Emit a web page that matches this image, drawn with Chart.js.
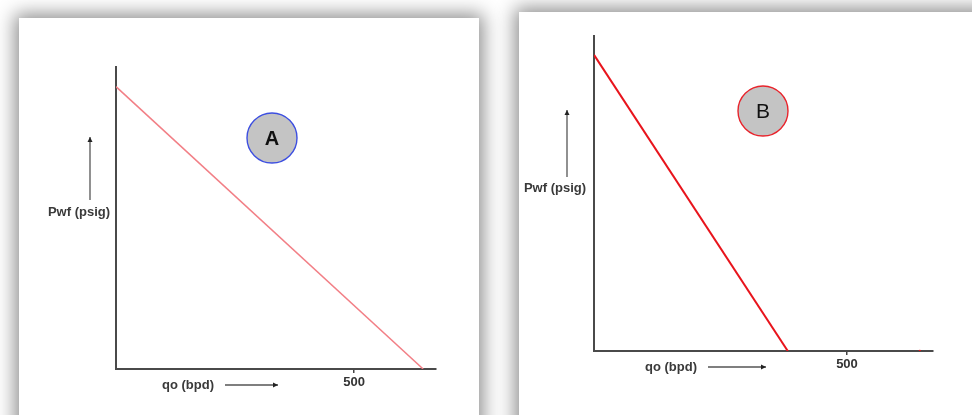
<!DOCTYPE html>
<html>
<head>
<meta charset="utf-8">
<script src="https://cdn.jsdelivr.net/npm/chart.js@4.4.1/dist/chart.umd.min.js"></script>
<style>
html, body { margin: 0; padding: 0; background: #fff; width: 972px; height: 415px; overflow: hidden; position: relative; }
.card { position: absolute; background: #fff; box-shadow: 0 0 18px 4px rgba(0,0,0,.45); }
#cardA { left: 19px; top: 18px; width: 460px; height: 420px; }
#cardB { left: 519px; top: 12px; width: 470px; height: 420px; }
canvas { display: block; }
</style>
</head>
<body>
<div class="card" id="cardA"><canvas id="chartA" width="460" height="397"></canvas></div>
<div class="card" id="cardB"><canvas id="chartB" width="470" height="403"></canvas></div>
<script>
// values (qo in bpd, Pwf on an unlabelled 0..1000 scale)
const qoA = [0, 645];
const pwfA = [935, 0];
const qoB = [0, 383];
const pwfB = [940, 0];
const strayQo = [644];      // tiny red mark sitting on panel B's axis
const strayPwf = [0];
const xTickValues = [500];
const yMax = 1000;

const FONT = '"Liberation Sans", Arial, sans-serif';

function pts(xs, ys){ return xs.map((x,i) => ({ x, y: ys[i] })); }

function drawArrow(c, x1, y1, x2, y2){
    c.beginPath();
    c.moveTo(x1, y1);
    c.lineTo(x2, y2);
    c.stroke();
    // small head at (x2,y2)
    const a = Math.atan2(y2 - y1, x2 - x1);
    const L = 5, W = 2.5;
    c.beginPath();
    c.moveTo(x2, y2);
    c.lineTo(x2 - L*Math.cos(a) + W*Math.sin(a), y2 - L*Math.sin(a) - W*Math.cos(a));
    c.lineTo(x2 - L*Math.cos(a) - W*Math.sin(a), y2 - L*Math.sin(a) + W*Math.cos(a));
    c.closePath();
    c.fill();
}

// axis captions, arrows and the lettered badge
const notes = {
    id: 'notes',
    afterDraw(chart, args, o){
        const c = chart.ctx;
        c.save();
        c.fillStyle = '#3a3a3a';
        c.font = 'bold 13px ' + FONT;
        c.textAlign = 'center';
        c.textBaseline = 'middle';
        c.fillText('Pwf (psig)', o.yText[0], o.yText[1]);
        c.fillText('qo (bpd)', o.xText[0], o.xText[1]);

        c.strokeStyle = '#555';
        c.fillStyle = '#222';
        c.lineWidth = 1.3;
        drawArrow(c, ...o.yArrow);
        drawArrow(c, ...o.xArrow);

        const [bx, by, r] = o.badge;
        c.beginPath();
        c.arc(bx, by, r, 0, Math.PI*2);
        c.fillStyle = '#c4c4c4';
        c.fill();
        c.strokeStyle = o.ring;
        c.lineWidth = 1.4;
        c.stroke();
        c.fillStyle = '#111';
        c.font = o.letterFont;
        c.fillText(o.letter, bx, by + 1);
        c.restore();
    }
};

function makeChart(id, datasets, xMax, pad, note){
    return new Chart(document.getElementById(id), {
        type: 'scatter',
        data: { datasets },
        options: {
            responsive: false,
            animation: false,
            layout: { padding: pad },
            scales: {
                x: {
                    type: 'linear', min: 0, max: xMax,
                    afterBuildTicks: s => { s.ticks = xTickValues.map(v => ({ value: v })); },
                    afterFit: s => { s.height = 20; },
                    grid: { drawOnChartArea: false, drawTicks: true, tickLength: 4, color: '#444', lineWidth: 1.5 },
                    border: { color: '#4a4a4a', width: 2 },
                    ticks: { color: '#333', padding: 2, font: { family: FONT, size: 13, weight: 'bold' } }
                },
                y: {
                    type: 'linear', min: 0, max: yMax,
                    afterFit: s => { s.width = 0; },
                    grid: { display: false },
                    border: { color: '#4a4a4a', width: 2 },
                    ticks: { display: false }
                }
            },
            plugins: {
                legend: { display: false },
                tooltip: { enabled: false },
                notes: note
            }
        },
        plugins: [notes]
    });
}

makeChart('chartA', [{
    label: 'A',
    data: pts(qoA, pwfA),
    showLine: true,
    borderColor: '#f27f86',
    borderWidth: 1.5,
    pointRadius: 0
}], 672, { left: 97, top: 49, right: 43, bottom: 26 }, {
    yText: [60, 194], yArrow: [71, 182, 71, 119],
    xText: [169, 367], xArrow: [206, 367, 259, 367],
    badge: [253, 120, 25], ring: '#3d4fe0', letter: 'A',
    letterFont: 'bold 20px ' + FONT
});

makeChart('chartB', [{
    label: 'B',
    data: pts(qoB, pwfB),
    showLine: true,
    borderColor: '#e8141c',
    borderWidth: 2,
    pointRadius: 0
}, {
    label: 'stray',
    data: pts(strayQo, strayPwf),
    showLine: false,
    pointRadius: 1.2,
    pointBackgroundColor: '#e8141c',
    pointBorderWidth: 0
}], 670, { left: 75, top: 24, right: 56, bottom: 44 }, {
    yText: [36, 176], yArrow: [48, 165, 48, 98],
    xText: [152, 355], xArrow: [189, 355, 247, 355],
    badge: [244, 99, 25], ring: '#e8242c', letter: 'B',
    letterFont: '21px ' + FONT
});
</script>
</body>
</html>
